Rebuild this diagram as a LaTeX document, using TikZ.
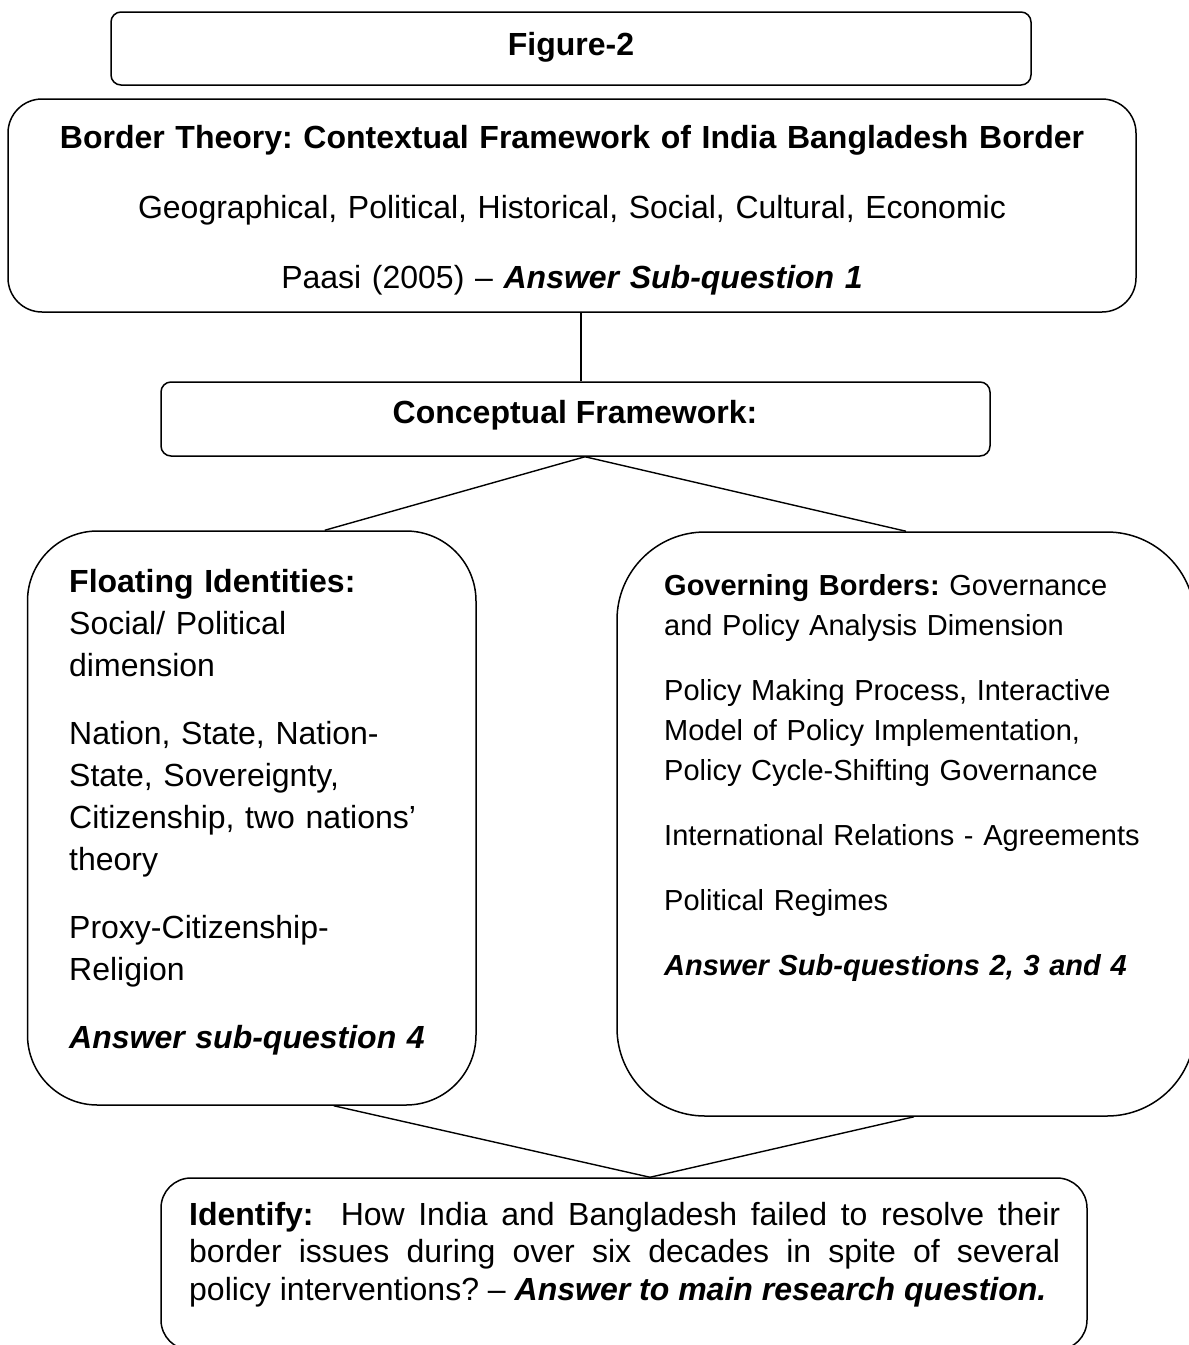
\documentclass[tikz,border=0pt]{standalone}
\usepackage{fontspec}
\setmainfont{Liberation Sans}
\usetikzlibrary{positioning,calc}
\frenchspacing
\tikzset{
  box/.style={draw, line width=1.5pt, rounded corners=#1, inner sep=0pt},
  conn/.style={line width=1.4pt},
  txt/.style={inner sep=0pt, anchor=base west, align=left},
  big/.style={font=\fontsize{32}{42}\selectfont},
}

\begin{document}
\begin{tikzpicture}[x=1pt,y=-1pt]
  \useasboundingbox (0,0) rectangle (1189,1345);
  % boxes
  \node[box=10pt, minimum width=920pt, minimum height=73pt] (fig) at (571,48.5) {};
  \node[box=34pt, minimum width=1128pt, minimum height=213pt] (border) at (572,205.5) {};
  \node[box=10pt, minimum width=829pt, minimum height=74pt] (concept) at (575.5,419) {};
  \node[box=70pt, minimum width=448.5pt, minimum height=574pt] (floating) at (251.75,818) {};
  \node[box=88pt, minimum width=578pt, minimum height=584pt] (governing) at (906,824) {};
  \node[box=30pt, minimum width=926pt, minimum height=172pt] (identify) at (624,1264) {};
  % texts
  \node[big, inner sep=0pt, anchor=base] (figtxt) at (571,55) {\textbf{Figure-2}};
  \node[inner sep=0pt, anchor=base, text width=1100pt, align=center,
        font=\fontsize{32}{70}\selectfont] (bordertxt) at (572,148)
    {\textbf{Border Theory: Contextual Framework of India Bangladesh Border}\\
     Geographical, Political, Historical, Social, Cultural, Economic\\
     Paasi (2005) -- \textbf{\textit{Answer Sub-question 1}}};
  \node[big, inner sep=0pt, anchor=base] (concepttxt) at (575,423) {\textbf{Conceptual Framework:}};
  \node[txt, big, text width=420pt] (floatingtxt) at (69,592)
    {\textbf{Floating Identities:}\\
     Social/ Political\\
     dimension\\[26pt]
     Nation, State, Nation-\\
     State, Sovereignty,\\
     Citizenship, two nations'\\
     theory\\[26pt]
     Proxy-Citizenship-\\
     Religion\\[26pt]
     \textbf{\textit{Answer sub-question 4}}};
  \node[txt, text width=525pt, font=\fontsize{29}{40}\selectfont] (governingtxt) at (664,595)
    {\textbf{Governing Borders:} Governance\\
     and Policy Analysis Dimension\\[25pt]
     Policy Making Process, Interactive\\
     Model of Policy Implementation,\\
     Policy Cycle-Shifting Governance\\[25pt]
     International Relations - Agreements\\[25pt]
     Political Regimes\\[25pt]
     \textbf{\textit{Answer Sub-questions 2, 3 and 4}}};
  \node[txt, align=justify, text width=871pt, font=\fontsize{32}{37.5}\selectfont] (identifytxt) at (189,1225)
    {\textbf{Identify:}~ How India and Bangladesh failed to resolve their\linebreak
     border issues during over six decades in spite of several\linebreak
     policy interventions? -- \textbf{\textit{Answer to main research question.}}};
  % connectors
  \draw[conn] ([xshift=9pt]border.south) -- ([xshift=5.5pt]concept.north);
  \draw[conn] ([xshift=9.5pt]concept.south) -- ([xshift=73pt]floating.north);
  \draw[conn] ([xshift=9.5pt]concept.south) -- (governing.north);
  \draw[conn] ([xshift=82pt]floating.south) -- ([xshift=26pt]identify.north);
  \draw[conn] ([xshift=8pt]governing.south) -- ([xshift=26pt]identify.north);
\end{tikzpicture}
\end{document}
